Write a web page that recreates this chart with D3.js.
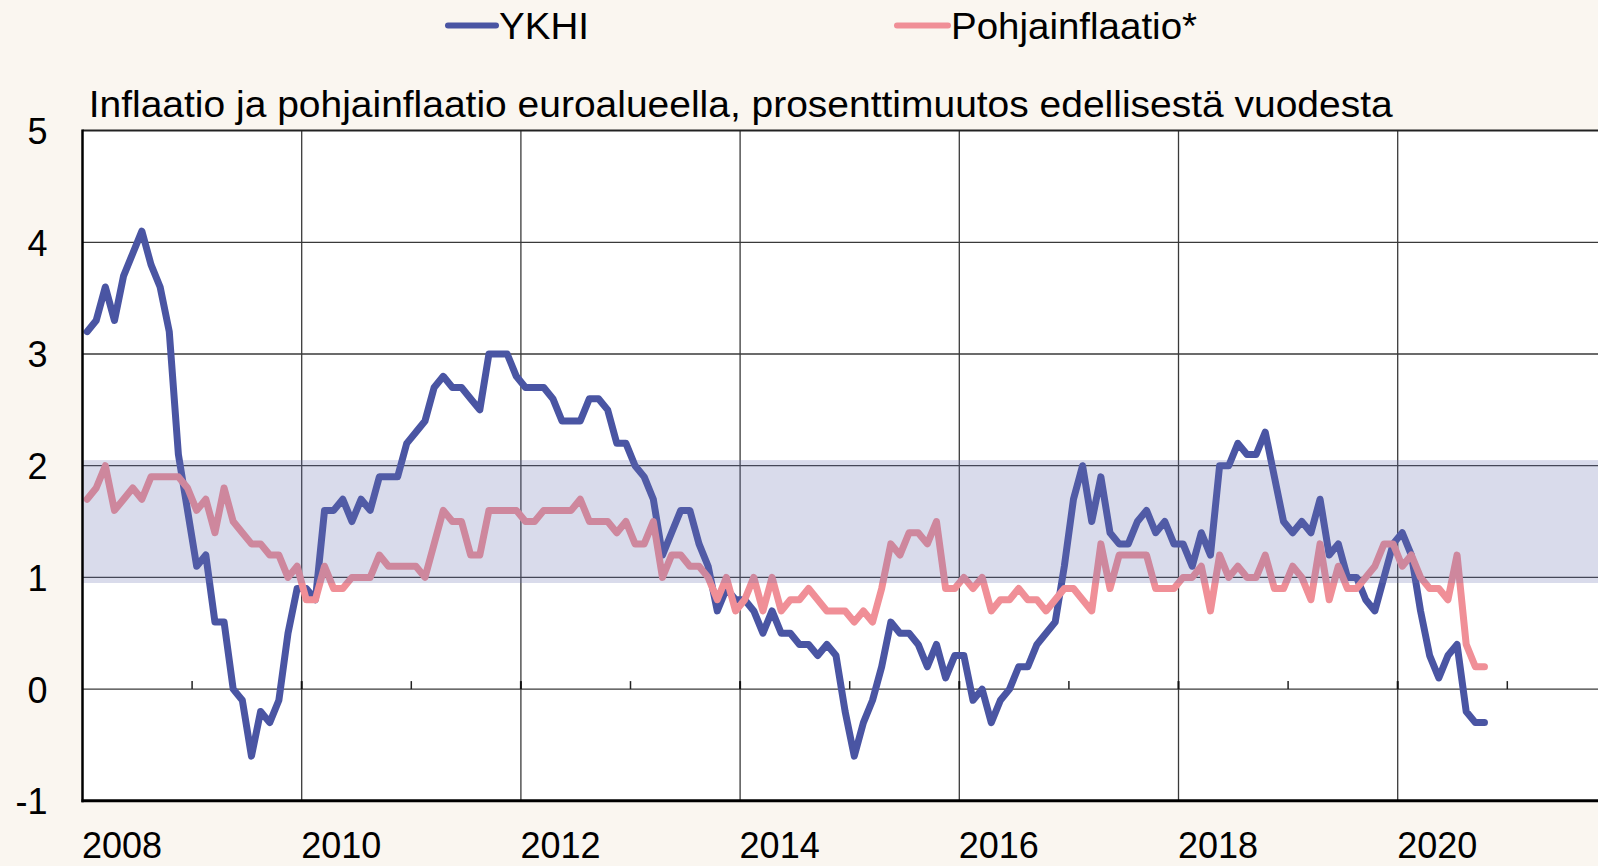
<!DOCTYPE html>
<html><head><meta charset="utf-8">
<script src="https://cdn.jsdelivr.net/npm/d3@7"></script>
<style>
body{margin:0;background:#faf6f0;}
svg{display:block;}
text{font-family:"Liberation Sans",Arial,sans-serif;fill:#000;}
</style>
</head><body>
<svg id="c" width="1598" height="866"></svg>
<script>
// ---- data (monthly, Jan 2008 .. Oct 2020) ----
const startYear = 2008;
const ykhi = [
 3.2,3.3,3.6,3.3,3.7,3.9,4.1,3.8,3.6,3.2,2.1,1.6,
 1.1,1.2,0.6,0.6,0.0,-0.1,-0.6,-0.2,-0.3,-0.1,0.5,0.9,
 0.9,0.8,1.6,1.6,1.7,1.5,1.7,1.6,1.9,1.9,1.9,2.2,
 2.3,2.4,2.7,2.8,2.7,2.7,2.6,2.5,3.0,3.0,3.0,2.8,
 2.7,2.7,2.7,2.6,2.4,2.4,2.4,2.6,2.6,2.5,2.2,2.2,
 2.0,1.9,1.7,1.2,1.4,1.6,1.6,1.3,1.1,0.7,0.9,0.8,
 0.8,0.7,0.5,0.7,0.5,0.5,0.4,0.4,0.3,0.4,0.3,-0.2,
 -0.6,-0.3,-0.1,0.2,0.6,0.5,0.5,0.4,0.2,0.4,0.1,0.3,
 0.3,-0.1,0.0,-0.3,-0.1,0.0,0.2,0.2,0.4,0.5,0.6,1.1,
 1.7,2.0,1.5,1.9,1.4,1.3,1.3,1.5,1.6,1.4,1.5,1.3,
 1.3,1.1,1.4,1.2,2.0,2.0,2.2,2.1,2.1,2.3,1.9,1.5,
 1.4,1.5,1.4,1.7,1.2,1.3,1.0,1.0,0.8,0.7,1.0,1.3,
 1.4,1.2,0.7,0.3,0.1,0.3,0.4,-0.2,-0.3,-0.3
];
const pohja = [
 1.7,1.8,2.0,1.6,1.7,1.8,1.7,1.9,1.9,1.9,1.9,1.8,
 1.6,1.7,1.4,1.8,1.5,1.4,1.3,1.3,1.2,1.2,1.0,1.1,
 0.8,0.8,1.1,0.9,0.9,1.0,1.0,1.0,1.2,1.1,1.1,1.1,
 1.1,1.0,1.3,1.6,1.5,1.5,1.2,1.2,1.6,1.6,1.6,1.6,
 1.5,1.5,1.6,1.6,1.6,1.6,1.7,1.5,1.5,1.5,1.4,1.5,
 1.3,1.3,1.5,1.0,1.2,1.2,1.1,1.1,1.0,0.8,1.0,0.7,
 0.8,1.0,0.7,1.0,0.7,0.8,0.8,0.9,0.8,0.7,0.7,0.7,
 0.6,0.7,0.6,0.9,1.3,1.2,1.4,1.4,1.3,1.5,0.9,0.9,
 1.0,0.9,1.0,0.7,0.8,0.8,0.9,0.8,0.8,0.7,0.8,0.9,
 0.9,0.8,0.7,1.3,0.9,1.2,1.2,1.2,1.2,0.9,0.9,0.9,
 1.0,1.0,1.1,0.7,1.2,1.0,1.1,1.0,1.0,1.2,0.9,0.9,
 1.1,1.0,0.8,1.3,0.8,1.1,0.9,0.9,1.0,1.1,1.3,1.3,
 1.1,1.2,1.0,0.9,0.9,0.8,1.2,0.4,0.2,0.2
];
const seriesNames = ["YKHI", "Pohjainflaatio*"];
const yTicks = [-1, 0, 1, 2, 3, 4, 5];
const xLabelYears = [2008, 2010, 2012, 2014, 2016, 2018, 2020];
const gridYears = [2010, 2012, 2014, 2016, 2018, 2020, 2022];
const minorYears = [2009, 2011, 2013, 2015, 2017, 2019, 2021];
const targetBand = [0.95, 2.05];
const title = "Inflaatio ja pohjainflaatio euroalueella, prosenttimuutos edellisestä vuodesta";

// ---- layout ----
const W = 1598, H = 866;
const L = 82.5, T = 130.6, B = 800.8;
const blue = "#4a55a3", pink = "#f08f97";
const svg = d3.select("#c");
const x = d3.scaleLinear().domain([2008, 2022]).range([L, 1616.9]);
const y = d3.scaleLinear().domain([-1, 5]).range([B, T]);
const t = i => startYear + (i + 0.5) / 12;

// plot area
svg.append("rect").attr("x", L).attr("y", T).attr("width", W - L).attr("height", B - T).attr("fill", "#fff");

// gridlines
const g = svg.append("g");
g.selectAll(".hg").data(yTicks.filter(v => v > -1 && v < 5)).join("line")
  .attr("x1", L).attr("x2", W).attr("y1", d => y(d)).attr("y2", d => y(d))
  .attr("stroke", "#3a3a3a").attr("stroke-width", 1.3);
g.selectAll(".vg").data(gridYears).join("line")
  .attr("x1", d => x(d)).attr("x2", d => x(d)).attr("y1", T).attr("y2", B)
  .attr("stroke", "#3a3a3a").attr("stroke-width", 1.3);

// minor ticks on zero line
g.selectAll(".mt").data(minorYears).join("line")
  .attr("x1", d => x(d)).attr("x2", d => x(d)).attr("y1", y(0)).attr("y2", y(0) - 8)
  .attr("stroke", "#222").attr("stroke-width", 1.5);
g.selectAll(".Mt").data(gridYears).join("line")
  .attr("x1", d => x(d)).attr("x2", d => x(d)).attr("y1", y(0)).attr("y2", y(0) - 8)
  .attr("stroke", "#111").attr("stroke-width", 2);

// lines
const line = d3.line().x((d, i) => x(t(i))).y(d => y(d));
svg.append("path").datum(ykhi).attr("d", line).attr("fill", "none")
  .attr("stroke", blue).attr("stroke-width", 7).attr("stroke-linejoin", "round").attr("stroke-linecap", "round");
svg.append("path").datum(pohja).attr("d", line).attr("fill", "none")
  .attr("stroke", pink).attr("stroke-width", 7).attr("stroke-linejoin", "round").attr("stroke-linecap", "round");

// target band (translucent overlay)
svg.append("rect").attr("x", L).attr("width", W - L)
  .attr("y", y(targetBand[1])).attr("height", y(targetBand[0]) - y(targetBand[1]))
  .attr("fill", "rgb(104,112,176)").attr("fill-opacity", 0.25);

// plot border
svg.append("line").attr("x1", L).attr("x2", W).attr("y1", T).attr("y2", T).attr("stroke", "#222").attr("stroke-width", 2);
svg.append("line").attr("x1", L).attr("x2", L).attr("y1", T - 1).attr("y2", B + 1.5).attr("stroke", "#000").attr("stroke-width", 2.5);
svg.append("line").attr("x1", L - 1).attr("x2", W).attr("y1", B).attr("y2", B).attr("stroke", "#000").attr("stroke-width", 3);

// y axis labels
const yAxis = d3.axisLeft(y).tickValues(yTicks).tickSize(0).tickPadding(0).tickFormat(d => String(d));
const ya = svg.append("g").attr("transform", "translate(47.5,0)").call(yAxis);
ya.select(".domain").remove();
ya.selectAll("text").attr("font-size", 36).attr("font-family", "Liberation Sans, Arial, sans-serif").attr("fill", "#000").attr("dy", "0.36em");

// x axis labels
const xAxis = d3.axisBottom(x).tickValues(xLabelYears).tickSize(0).tickPadding(0).tickFormat(d => String(d));
const xa = svg.append("g").attr("transform", "translate(0,858)").call(xAxis);
xa.select(".domain").remove();
xa.selectAll("text").attr("font-size", 36).attr("font-family", "Liberation Sans, Arial, sans-serif").attr("fill", "#000")
  .attr("text-anchor", "start").attr("dy", 0).attr("x", -1);

// title
svg.append("text").attr("x", 88.7).attr("y", 117).attr("font-size", 37)
  .attr("textLength", 1304).attr("lengthAdjust", "spacingAndGlyphs").text(title);

// legend
const legend = [
  {name: seriesNames[0], color: blue, x1: 448, x2: 496, tx: 499, tw: 90},
  {name: seriesNames[1], color: pink, x1: 897, x2: 948, tx: 951, tw: 246}
];
const lg = svg.append("g");
legend.forEach(d => {
  lg.append("line").attr("x1", d.x1).attr("x2", d.x2).attr("y1", 25.5).attr("y2", 25.5)
    .attr("stroke", d.color).attr("stroke-width", 6).attr("stroke-linecap", "round");
  lg.append("text").attr("x", d.tx).attr("y", 39).attr("font-size", 37)
    .attr("textLength", d.tw).attr("lengthAdjust", "spacingAndGlyphs").text(d.name);
});
</script>
</body></html>
